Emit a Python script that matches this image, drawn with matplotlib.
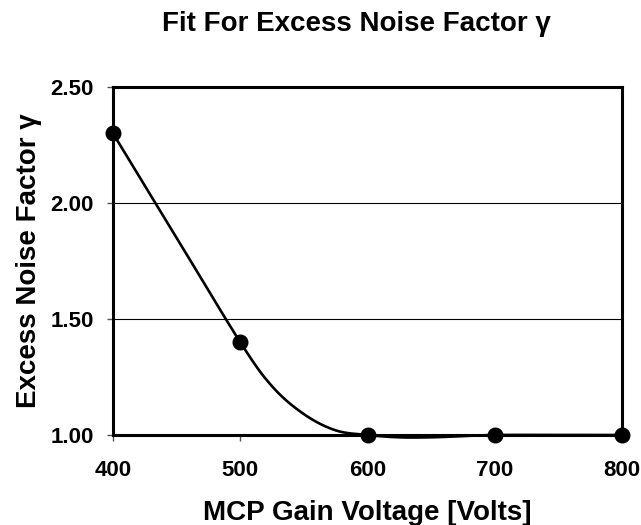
import numpy as np
import matplotlib
matplotlib.use("Agg")
import matplotlib.pyplot as plt

# measured data points
voltage = [400, 500, 600, 700, 800]
noise_factor = [2.30, 1.40, 1.00, 1.00, 1.00]

# fit curve, values
fit_voltage = [400, 450, 500, 525, 550, 575, 600, 625, 650, 675, 700, 750, 800]
fit_value = [2.30, 1.85, 1.40, 1.21, 1.09, 1.02, 1.00, 0.99, 0.99, 0.995, 1.00, 1.00, 1.00]

x_ticks = [400, 500, 600, 700, 800]
y_ticks = [1.00, 1.50, 2.00, 2.50]

plt.rcParams['font.family'] = ['Liberation Sans', 'DejaVu Sans']


def smooth(xs, ys, n=40):
    # smoothed line: cubic Bezier with control points at 1/6 of neighbour chord
    P = np.column_stack([xs, ys]).astype(float)
    out = []
    m = len(P)
    for i in range(m - 1):
        p0 = P[i - 1] if i > 0 else P[i]
        p1, p2 = P[i], P[i + 1]
        p3 = P[i + 2] if i + 2 < m else P[i + 1]
        c1 = p1 + (p2 - p0) / 6.0
        c2 = p2 - (p3 - p1) / 6.0
        t = np.linspace(0, 1, n)[:, None]
        seg = ((1 - t) ** 3) * p1 + 3 * ((1 - t) ** 2) * t * c1 + 3 * (1 - t) * t ** 2 * c2 + t ** 3 * p2
        out.append(seg if i == 0 else seg[1:])
    S = np.vstack(out)
    return S[:, 0], S[:, 1]


fig = plt.figure(figsize=(6.41, 5.25), dpi=100)
ax = fig.add_axes([113/641, 1-435/525, (622-113)/641, (435-87)/525])

sx, sy = smooth(fit_voltage, fit_value)
ax.plot(sx, sy, color='black', lw=1.9, zorder=3, clip_on=False, solid_capstyle='round')
ax.plot(voltage, noise_factor, 'o', color='black', ms=10.5, zorder=4, clip_on=False)

ax.set_xlim(400, 800)
ax.set_ylim(1.0, 2.5)
ax.set_xticks(x_ticks)
ax.set_xticklabels([str(v) for v in x_ticks])
ax.set_yticks(y_ticks)
ax.set_yticklabels([f"{v:.2f}" for v in y_ticks])
for lbl in ax.get_xticklabels() + ax.get_yticklabels():
    lbl.set_fontweight('bold')
    lbl.set_fontsize(16)
ax.tick_params(axis='both', direction='out', length=4, width=1, color='#555555')
ax.tick_params(axis='y', pad=10)
ax.tick_params(axis='x', pad=14)
ax.yaxis.grid(True, color='black', lw=0.8)
ax.set_axisbelow(True)
for s in ax.spines.values():
    s.set_linewidth(2.2)
    s.set_color('black')

ax.set_xlabel('MCP Gain Voltage [Volts]', fontsize=20, fontweight='bold', labelpad=14)
ax.set_ylabel('Excess Noise Factor γ', fontsize=20, fontweight='bold', labelpad=6)
fig.text(356/641, 1-24/525, 'Fit For Excess Noise Factor γ', ha='center', va='center',
         fontsize=20, fontweight='bold')

fig.savefig('out.png', dpi=100)
